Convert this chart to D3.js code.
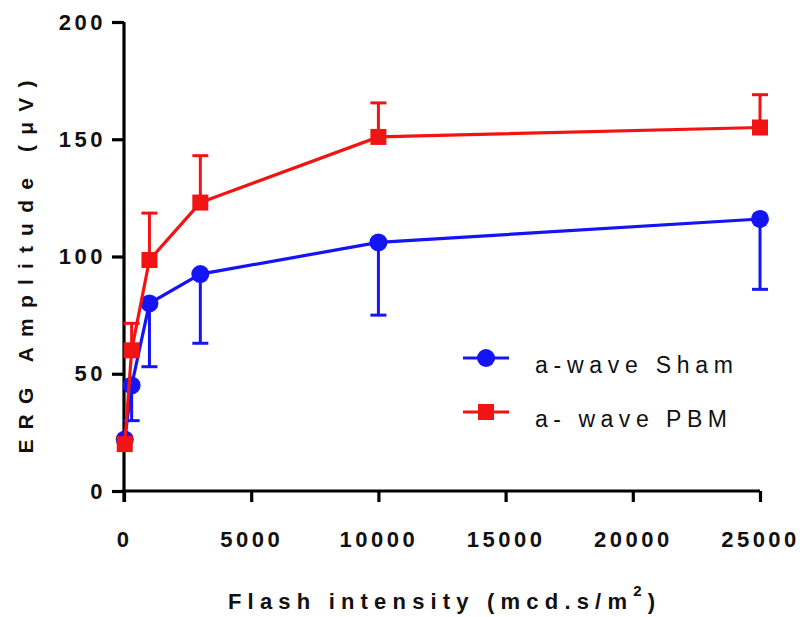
<!DOCTYPE html>
<html>
<head>
<meta charset="utf-8">
<script src="https://cdn.jsdelivr.net/npm/d3@7"></script>
<style>
  html, body { margin: 0; padding: 0; background: #ffffff; }
  svg { display: block; }
  .tick text { font-family: "Liberation Sans", Arial, sans-serif; font-weight: bold; font-size: 22px; letter-spacing: 3.5px; fill: #111; }
</style>
</head>
<body>
<svg id="chart" width="802" height="617"></svg>
<script>
// Flash intensities (mcd.s/m^2)
const intensity = [30, 300, 1000, 3000, 10000, 25000];
// a-wave amplitudes (µV): means and one-sided error bars
const shamMean = [22, 45, 80, 92.5, 106, 116];
const shamErr  = [1, 15, 27, 29.5, 31, 30];
const pbmMean  = [20, 60, 98.5, 123, 151, 155];
const pbmErr   = [1, 11.5, 20, 20, 14.5, 14];
const xTicks = [0, 5000, 10000, 15000, 20000, 25000];
const yTicks = [0, 50, 100, 150, 200];
const seriesNames = ["a-wave Sham", "a- wave PBM"];
const seriesColors = ["#1414f5", "#f21414"];

const margin = { left: 124, top: 22, right: 42, bottom: 126 };
const W = 802, H = 617;
const iw = W - margin.left - margin.right;
const ih = H - margin.top - margin.bottom;
const FONT = "Liberation Sans, Arial, sans-serif";

const svg = d3.select("#chart");
const g = svg.append("g").attr("transform", `translate(${margin.left},${margin.top})`);

const x = d3.scaleLinear().domain([0, 25000]).range([0, iw]);
const y = d3.scaleLinear().domain([0, 200]).range([ih, 0]);

// spread a text's letters so the whole string spans the given width
function fitWidth(text, width) {
  const node = text.node();
  text.attr("letter-spacing", 0);
  const natural = node.getComputedTextLength();
  const n = node.getNumberOfChars();
  text.attr("letter-spacing", (width - natural) / (n - 1));
}

// axes
const yAxis = g.append("g")
  .call(d3.axisLeft(y).tickValues(yTicks).tickSize(12).tickPadding(6).tickSizeOuter(0));
const xAxis = g.append("g").attr("transform", `translate(0,${ih})`)
  .call(d3.axisBottom(x).tickValues(xTicks).tickFormat(d3.format("d")).tickSize(11).tickPadding(29).tickSizeOuter(0));
[yAxis, xAxis].forEach(a => {
  a.select(".domain").attr("stroke", "#000").attr("stroke-width", 3.2);
  a.selectAll(".tick line").attr("stroke", "#000").attr("stroke-width", 3.2);
});
yAxis.select(".domain").attr("d", `M0,${ih + 11}V0`);
xAxis.select(".domain").attr("d", `M0,0H${iw}`);

// series
const series = [
  { name: seriesNames[0], mean: shamMean, err: shamErr, color: seriesColors[0], shape: "circle", dir: -1 },
  { name: seriesNames[1], mean: pbmMean, err: pbmErr, color: seriesColors[1], shape: "square", dir: 1 }
];

const line = d3.line().x(d => x(d[0])).y(d => y(d[1]));

function drawMarker(sel, shape, color) {
  if (shape === "circle") {
    sel.append("circle").attr("r", 9).attr("fill", color);
  } else {
    sel.append("rect").attr("x", -8).attr("y", -8).attr("width", 16).attr("height", 16).attr("fill", color);
  }
}

series.forEach(s => {
  const pts = intensity.map((v, i) => [v, s.mean[i], s.err[i]]);
  const sg = g.append("g");
  pts.forEach(p => {
    const y0 = y(p[1]), y1 = y(p[1] + s.dir * p[2]);
    sg.append("line").attr("x1", x(p[0])).attr("x2", x(p[0])).attr("y1", y0).attr("y2", y1)
      .attr("stroke", s.color).attr("stroke-width", 3);
    sg.append("line").attr("x1", x(p[0]) - 8).attr("x2", x(p[0]) + 8).attr("y1", y1).attr("y2", y1)
      .attr("stroke", s.color).attr("stroke-width", 3);
  });
  sg.append("path").datum(pts).attr("d", line)
    .attr("fill", "none").attr("stroke", s.color).attr("stroke-width", 3.2);
  pts.forEach(p => {
    const m = sg.append("g").attr("transform", `translate(${x(p[0])},${y(p[1])})`);
    drawMarker(m, s.shape, s.color);
  });
});

// legend
const legend = svg.append("g");
series.forEach((s, i) => {
  const ly = 358 + i * 54;
  const lg = legend.append("g").attr("transform", `translate(486,${ly})`);
  lg.append("line").attr("x1", -23).attr("x2", 23).attr("stroke", s.color).attr("stroke-width", 3.2);
  drawMarker(lg, s.shape, s.color);
  const t = legend.append("text").attr("x", 535).attr("y", ly + 15)
    .attr("font-family", FONT).attr("font-size", 23).attr("fill", "#111").text(s.name);
  fitWidth(t, i === 0 ? 198 : 192);
});

// axis titles
const yt = svg.append("text")
  .attr("transform", `translate(33,262) rotate(-90)`)
  .attr("text-anchor", "middle")
  .attr("font-family", FONT).attr("font-weight", "bold")
  .attr("font-size", 21).attr("fill", "#111")
  .text("ERG Amplitude (μV)");
fitWidth(yt, 373);

const xt = svg.append("text")
  .attr("x", 228).attr("y", 609)
  .attr("font-family", FONT).attr("font-weight", "bold")
  .attr("font-size", 22).attr("fill", "#111");
xt.append("tspan").text("Flash intensity (mcd.s/m");
xt.append("tspan").attr("dy", -13).attr("font-size", 15).text("2");
xt.append("tspan").attr("dy", 13).text(")");
fitWidth(xt, 427);
</script>
</body>
</html>
